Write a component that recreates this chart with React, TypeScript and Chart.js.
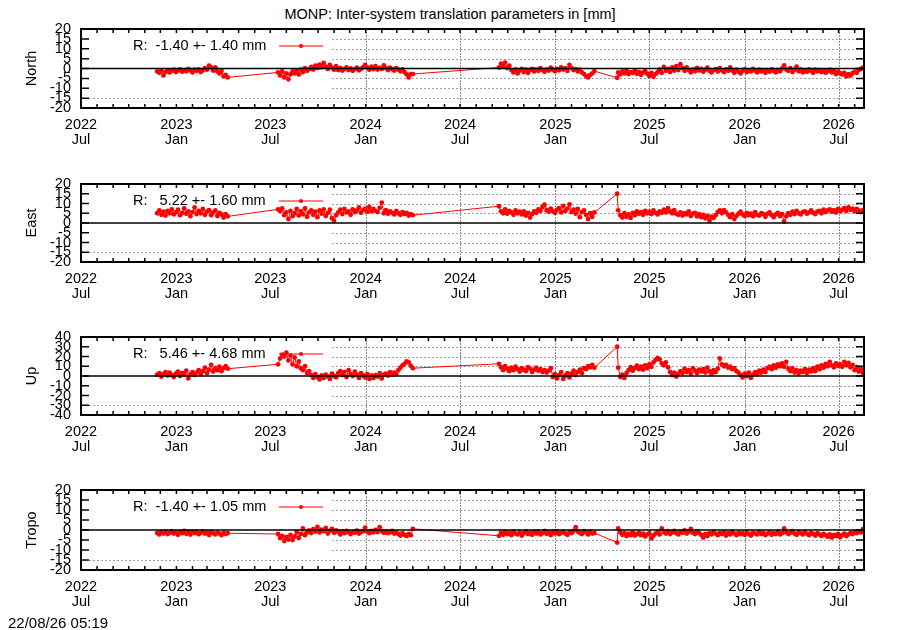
import React, { useEffect, useRef } from 'react';
import { Chart, registerables } from 'chart.js';

Chart.register(...registerables);

const FONT = "'Liberation Sans', Arial, Helvetica, sans-serif";
Chart.defaults.font.family = FONT;
Chart.defaults.color = '#000';

// ---- x axis (dates) ----
const xStart = '2022-07-01';
const xEnd = '2026-08-19';
const xTickDates = ['2022-07-01', '2023-01-01', '2023-07-01', '2024-01-01', '2024-07-01', '2025-01-01', '2025-07-01', '2026-01-01', '2026-07-01'];
const monthNames = ['Jan', 'Feb', 'Mar', 'Apr', 'May', 'Jun', 'Jul', 'Aug', 'Sep', 'Oct', 'Nov', 'Dec'];

// ---- series: one value every 4 days, blocks start at these dates ----
const blockStarts = ['2022-11-25', '2023-07-16', '2024-09-14', '2025-04-30', '2025-05-02'];
const stepDays = 4;

const northA = [-1.5, -2.2, -1.0, -3.5, -1.8, -0.8, -2.0, -1.2, -0.6, -1.8, -1.0, -0.4, -1.6, -0.8, -1.4, -0.2, -1.0, -2.0, -0.6, -1.2, -0.5, -1.8, -0.9, 0.2, -0.6, 1.5, 0.4, -1.0, 0.6, -1.5, -2.5, -1.2, -4.0, -3.2, -4.5];
const northB = [-2.0, -3.5, -1.5, -4.5, -2.5, -5.5, -3.0, -1.5, -2.5, -1.0, -3.0, -0.5, -1.8, 0.2, -1.2, -0.3, 0.8, -0.5, 1.5, 0.2, 2.0, 0.6, 2.8, 1.0, -0.2, 1.8, 0.4, -0.6, 1.2, -0.8, 0.3, -1.0, -0.2, 0.5, -0.8, 0.0, -1.2, -0.3, 0.4, -0.9, -0.2, 0.6, 1.8, 0.4, -0.6, 0.9, -0.3, 1.2, -0.5, 0.3, -0.2, 1.6, 0.2, -0.8, 0.4, -0.3, -1.0, 0.2, -0.6, -1.4, -0.4, -1.8, -3.0, -4.5, -2.8, -2.8];
const northC = [0.5, 2.5, 1.2, 3.0, 0.2, 1.5, -0.8, -2.0, -0.5, -2.5, -1.0, -0.2, -1.8, -0.6, -2.2, -0.8, -0.2, -1.5, -0.5, -1.2, 0.2, -0.8, -1.6, -0.4, -1.0, 0.4, -0.6, -1.4, -0.2, -0.9, 0.6, -0.5, 0.2, -1.2, 1.8, 0.2, -0.8, -0.3, -1.5, -0.6, -2.0, -2.8, -3.8, -4.5, -3.2, -2.5, -1.3];
const northP = [-4.7];
const northD = [
  -2.0, -3.0, -1.5, -2.5, -1.2, -2.8, -1.8, -2.2, -1.0, -2.6,
  -1.8, -3.2, -2.0, -1.4, -2.6, -3.8, -2.2, -4.2, -2.8, -1.8,
  -0.6, -2.2, 0.8, -1.2, -0.2, -1.8, 0.5, -1.0, 1.2, -0.8,
  2.2, 0.2, -1.2, 0.6, -0.8, -2.0, -0.4, -1.4, 0.3, -1.0,
  -0.2, -1.6, -0.6, 0.4, -1.2, -2.0, -0.8, -0.3, -1.5, 0.2,
  -0.9, -1.8, -0.4, -1.2, 0.5, -1.0, -2.2, -0.6, -1.6, -2.5,
  -1.2, -0.4, -1.8, -0.8, -1.4, -0.2, -1.0, -2.0, -0.6, -1.5,
  -1.0, -2.2, -0.8, -1.6, -0.4, -1.2, -2.0, -0.7, -1.4, 0.0,
  1.6, -0.5, -1.2, 0.2, -1.8, -0.6, 1.0, -1.4, -0.4, -2.0,
  -0.8, -1.6, -0.4, -1.2, -2.2, -0.6, -1.4, -0.8, -1.8, -1.0,
  -2.2, -1.4, -0.6, -2.0, -1.2, -2.8, -1.6, -2.4, -3.0, -2.2,
  -4.0, -2.8, -3.6, -2.4, -1.6, -2.2, -0.8, -0.2, 0.4];

const eastA = [5.0, 6.5, 4.2, 5.8, 3.8, 6.2, 5.0, 7.0, 4.5, 5.5, 6.8, 4.0, 5.2, 7.5, 4.8, 6.0, 3.5, 5.6, 8.0, 4.6, 6.2, 5.0, 7.2, 4.2, 5.8, 6.6, 4.0, 5.4, 6.4, 3.6, 5.2, 4.4, 2.8, 4.6, 3.4];
const eastB = [7.0, 6.0, 7.5, 4.0, 5.5, 2.0, 6.2, 3.5, 5.0, 7.2, 3.8, 6.0, 4.5, 7.5, 3.2, 5.5, 6.5, 4.2, 5.8, 3.0, 6.4, 4.8, 7.0, 3.6, 5.2, 6.8, 2.5, 1.0, 4.0, 5.5, 6.8, 4.6, 7.2, 5.4, 6.0, 4.2, 7.0, 5.6, 6.4, 8.0, 5.2, 6.6, 7.4, 5.8, 8.2, 6.0, 7.2, 6.2, 5.6, 7.8, 10.5, 5.0, 6.6, 4.8, 6.0, 5.2, 4.4, 6.2, 5.0, 4.2, 5.6, 4.6, 5.2, 3.8, 4.6, 4.0];
const eastC = [8.6, 6.0, 5.0, 7.0, 4.8, 6.2, 5.4, 4.2, 6.4, 5.0, 5.8, 4.4, 6.0, 3.8, 5.2, 2.8, 4.6, 6.0, 5.2, 7.0, 6.2, 8.2, 9.4, 6.6, 5.8, 7.4, 6.0, 5.2, 6.8, 7.6, 5.4, 8.8, 6.2, 7.4, 9.6, 5.6, 6.8, 4.8, 7.2, 3.0, 5.6, 6.4, 4.2, 2.0, 5.0, 3.2, 5.4];
const eastP = [15.0];
const eastD = [
  6.5, 4.0, 2.8, 5.0, 3.2, 4.4, 2.6, 5.2, 4.0, 6.0,
  4.8, 5.6, 4.2, 6.2, 5.0, 5.8, 4.6, 6.4, 5.2, 4.4,
  6.0, 5.2, 6.8, 5.4, 7.6, 6.0, 5.0, 6.6, 4.8, 4.2,
  5.4, 3.8, 5.0, 4.4, 6.0, 3.6, 4.8, 5.2, 3.4, 4.6,
  3.0, 4.2, 2.4, 3.6, 1.2, 3.2, 2.6, 4.0, 5.6, 6.4,
  5.0, 6.6, 5.4, 4.2, 3.0, 4.6, 2.0, 3.6, 4.8, 5.8,
  4.4, 3.6, 5.2, 4.0, 4.8, 3.4, 5.6, 4.2, 3.8, 5.0,
  4.6, 3.2, 4.8, 5.4, 4.0, 3.0, 4.4, 5.2, 3.6, 4.6,
  0.8, 3.4, 5.0, 4.2, 5.8, 4.6, 6.2, 5.0, 4.4, 5.6,
  6.0, 4.8, 5.4, 6.4, 5.2, 4.6, 5.8, 6.2, 5.0, 6.8,
  5.6, 6.4, 7.0, 5.8, 6.6, 5.4, 7.2, 6.0, 6.8, 7.6,
  6.2, 8.0, 6.8, 7.4, 6.0, 7.2, 6.4, 5.6, 6.6];

const upA = [1.5, 3.0, -0.5, 2.0, 4.0, 0.5, 3.5, 1.0, -1.0, 2.5, 4.5, 0.0, 3.0, 1.5, 5.5, -2.5, 2.0, 4.0, 1.0, 3.5, 6.0, 2.0, 5.0, 8.5, 3.0, 6.5, 11.5, 4.5, 8.0, 6.0, 9.5, 5.0, 8.0, 10.0, 7.5];
const upB = [12.0, 18.0, 22.0, 20.0, 24.0, 16.0, 21.0, 12.0, 19.0, 10.0, 15.0, 8.0, 6.0, 10.0, 3.0, 5.0, 1.0, -2.0, 2.0, -1.0, -3.5, 0.5, -2.0, 1.5, -0.5, -3.0, 2.5, 0.0, -1.5, 3.0, 5.0, 1.0, 4.0, -1.0, 6.0, 2.0, 0.0, 4.5, 1.5, -2.0, 3.0, 0.5, -1.5, 2.0, -3.0, 0.5, -2.0, 1.0, -0.5, 3.0, -2.5, 1.5, 2.5, 0.5, 4.0, 1.5, 3.5, 2.0, 6.0, 8.5, 11.0, 12.5, 15.0, 14.0, 10.5, 8.0];
const upC = [12.5, 9.0, 6.0, 10.0, 7.5, 5.0, 8.5, 6.0, 9.5, 7.0, 4.5, 8.0, 6.5, 5.0, 9.0, 7.5, 4.0, 6.5, 8.5, 5.5, 7.0, 4.0, 6.0, 3.5, 5.5, 8.0, -1.0, 2.0, -2.5, 1.0, 4.0, -3.0, 0.5, 3.0, -1.5, 2.5, 5.5, 1.0, 4.0, 6.5, 3.0, 8.0, 7.0, 10.0, 9.0, 11.5, 8.5];
const upP = [30.0];
const upD = [
  8.5, -1.0, 1.5, -2.0, 3.0, 6.0, 9.0, 5.5, 8.0, 10.5,
  7.0, 9.5, 6.5, 11.0, 8.0, 12.0, 9.5, 14.0, 16.5, 18.5,
  17.0, 13.0, 11.0, 14.0, 9.0, 4.0, 1.0, 3.5, -0.5, 2.5,
  5.0, 3.0, 7.5, 4.0, 6.0, 2.5, 8.0, 5.5, 3.0, 6.5,
  4.5, 7.0, 3.5, 8.5, 5.0, 2.0, 6.0, 4.0, 7.5, 18.0,
  12.0, 10.0, 11.5, 8.5, 9.5, 7.0, 8.0, 5.0, 3.5, 1.0,
  -1.5, 2.5, 0.0, 3.5, -2.0, 1.5, 4.0, 2.0, 5.5, 3.5,
  6.5, 4.0, 8.0, 9.5, 7.0, 11.0, 8.5, 12.0, 10.0, 13.0,
  9.5, 14.5, 7.5, 5.0, 8.0, 3.5, 6.0, 2.5, 5.5, 4.0,
  7.0, 3.0, 6.5, 4.5, 8.0, 5.0, 9.5, 7.0, 11.0, 8.5,
  12.5, 10.0, 14.5, 11.0, 9.0, 13.0, 10.5, 12.0, 9.5, 14.5,
  11.0, 13.5, 9.0, 11.5, 6.0, 9.0, 4.5, 7.0, 3.0];

const tropoA = [-1.5, -2.2, -1.0, -1.8, -0.8, -2.0, -1.4, -0.6, -1.8, -1.2, -2.4, -0.9, -1.6, -0.4, -1.9, -1.1, -2.3, -0.8, -1.5, -1.0, -2.1, -1.4, -0.7, -1.8, -1.2, -2.5, -1.0, -1.6, -2.2, -1.3, -1.8, -2.6, -1.5, -2.0, -1.6];
const tropoB = [-2.0, -4.0, -3.0, -5.5, -3.5, -4.8, -2.5, -5.0, -3.2, -1.0, -4.0, -2.0, 0.8, -2.6, -1.2, -0.2, -1.5, 0.4, -0.8, 1.5, -1.2, 0.2, -0.6, 1.0, -1.8, -0.4, 0.6, -1.4, -0.2, -1.0, -2.2, -0.8, -1.6, -0.5, -1.2, -2.0, -0.9, -1.4, -0.3, -1.8, -1.0, -0.6, 1.2, -0.8, -1.6, -0.4, -1.2, 0.0, -1.0, 1.4, -0.6, -1.4, -0.8, -1.6, -1.0, -0.4, -1.8, -1.2, -2.0, -2.8, -1.6, -2.4, -3.0, -2.0, -2.6, 0.6];
const tropoC = [-2.9, -1.5, -2.4, -1.0, -2.0, -1.4, -2.6, -0.8, -1.8, -2.2, -1.2, -2.8, -1.6, -0.6, -2.0, -1.3, -2.4, -1.0, -1.8, -0.8, -2.2, -1.5, -0.5, -1.9, -1.2, -2.5, -1.0, -1.7, -0.7, -2.1, -1.4, -0.9, -1.8, -2.4, -1.1, -1.6, -0.4, 1.4, -0.8, -1.5, -2.0, -0.6, -1.2, -2.2, -1.0, -1.8, -1.5];
const tropoP = [-6.3];
const tropoD = [
  0.8, -1.2, -2.4, -1.6, -3.0, -1.8, -2.6, -1.2, -2.8, -2.0,
  -1.4, -2.6, -1.8, -3.2, -2.2, -1.6, -4.2, -2.8, -1.8, -1.0,
  -2.2, 0.8, -1.0, -1.8, -0.6, -2.0, -1.2, -0.4, -1.6, -2.2,
  -0.8, -1.4, -0.2, -1.8, -1.0, 0.6, -1.4, -2.0, -0.8, -1.6,
  -2.4, -3.8, -2.0, -3.0, -1.6, -2.2, -1.0, -1.8, -2.6, -1.4,
  -2.0, -1.2, -2.8, -1.6, -2.2, -1.0, -1.8, -2.6, -1.4, -2.0,
  -1.6, -2.4, -1.2, -2.0, -2.8, -1.4, -1.8, -2.2, -1.0, -2.0,
  -1.4, -2.6, -1.8, -1.2, -2.4, -1.6, -2.0, -1.0, -2.2, -1.6,
  0.8, -1.2, -2.0, -1.4, -0.6, -1.8, -2.4, -1.2, -1.6, -2.2,
  -1.0, -1.8, -2.6, -1.4, -2.0, -2.8, -1.6, -2.2, -3.0, -2.0,
  -2.6, -3.4, -2.2, -3.8, -2.4, -3.0, -2.0, -3.6, -2.6, -1.8,
  -3.0, -2.2, -1.4, -2.0, -1.0, -1.6, -0.8, -1.2, 0.4];

const DAY = 86400000;
const toMs = (s: string) => {
  const [y, m, d] = s.split('-').map(Number);
  return Date.UTC(y, m - 1, d);
};
const tickValues = xTickDates.map(toMs);

const buildSeries = (blocks: number[][]) => {
  const pts: { x: number; y: number }[] = [];
  blocks.forEach((vals, b) => {
    const t0 = toMs(blockStarts[b]);
    vals.forEach((v, i) => pts.push({ x: t0 + i * stepDays * DAY, y: v }));
  });
  return pts;
};

type PanelSpec = {
  name: string;
  key: string;
  yMin: number;
  yMax: number;
  yStep: number;
  blocks: number[][];
  top: number;
  plotH: number;
};

const panels: PanelSpec[] = [
  { name: 'North', key: 'R:  -1.40 +- 1.40 mm', yMin: -20, yMax: 20, yStep: 5, blocks: [northA, northB, northC, northP, northD], top: 29, plotH: 79 },
  { name: 'East', key: 'R:   5.22 +- 1.60 mm', yMin: -20, yMax: 20, yStep: 5, blocks: [eastA, eastB, eastC, eastP, eastD], top: 184, plotH: 78 },
  { name: 'Up', key: 'R:   5.46 +- 4.68 mm', yMin: -40, yMax: 40, yStep: 10, blocks: [upA, upB, upC, upP, upD], top: 337, plotH: 78 },
  { name: 'Tropo', key: 'R:  -1.40 +- 1.05 mm', yMin: -20, yMax: 20, yStep: 5, blocks: [tropoA, tropoB, tropoC, tropoP, tropoD], top: 490, plotH: 80 },
];

const TOP_PAD = 29;
const X_AXIS_H = 46;
const KEY_RIGHT = 332;
const KEY_H = 64;
const GRID = '#a0a0a0';
const VGRID = '#8c8c8c';

// month starts inside the x range (for the small ticks and the Jan/Jul grid)
const monthsInRange = (xs: any) => {
  const out: { t: number; month: number }[] = [];
  const s = new Date(xs.min);
  for (let i = 0; i < 120; i++) {
    const t = Date.UTC(s.getUTCFullYear(), s.getUTCMonth() + i, 1);
    if (t > xs.max) break;
    if (t > xs.min) out.push({ t, month: new Date(t).getUTCMonth() });
  }
  return out;
};

// dotted grid made of small dashes (kept clear of the key area), under the data
const gnuplotGrid = {
  id: 'gnuplotGrid',
  beforeDatasetsDraw(chart: any) {
    const { ctx, chartArea } = chart;
    const { left, right, top, bottom } = chartArea;
    const xs = chart.scales.x;
    const ys = chart.scales.y;
    const keyBottom = top + KEY_H;
    ctx.save();
    ctx.fillStyle = GRID;
    ys.ticks.forEach((t: any) => {
      if (t.value === 0 || t.value === ys.min || t.value === ys.max) return;
      const py = Math.round(ys.getPixelForValue(t.value));
      const x0 = py < keyBottom ? KEY_RIGHT : left;
      for (let x = x0; x < right; x += 4) ctx.fillRect(x, py, 2, 1);
    });
    ctx.fillStyle = VGRID;
    monthsInRange(xs).forEach(({ t, month }) => {
      if (month !== 0 && month !== 6) return;
      const px = Math.round(xs.getPixelForValue(t));
      if (px > KEY_RIGHT && px < right - 1) {
        for (let y = Math.round(top); y < bottom; y += 3) ctx.fillRect(px, y, 1, 2);
      }
    });
    ctx.restore();
  },
};

// frame, inward ticks, zero axis and key, drawn over the data
const gnuplotFrame = {
  id: 'gnuplotFrame',
  afterDatasetsDraw(chart: any) {
    const { ctx, chartArea } = chart;
    const { left, right, top, bottom } = chartArea;
    const xs = chart.scales.x;
    const ys = chart.scales.y;
    ctx.save();
    const y0 = ys.getPixelForValue(0);
    ctx.strokeStyle = '#000';
    ctx.lineWidth = 1.5;
    ctx.beginPath();
    ctx.moveTo(left, y0);
    ctx.lineTo(right, y0);
    ctx.stroke();
    ys.ticks.forEach((t: any) => {
      if (t.value === ys.min || t.value === ys.max) return;
      const py = ys.getPixelForValue(t.value);
      ctx.beginPath();
      ctx.moveTo(left, py);
      ctx.lineTo(left + 8, py);
      ctx.moveTo(right, py);
      ctx.lineTo(right - 8, py);
      ctx.stroke();
    });
    monthsInRange(xs).forEach(({ t }) => {
      const px = xs.getPixelForValue(t);
      ctx.beginPath();
      ctx.moveTo(px, bottom);
      ctx.lineTo(px, bottom - 4);
      ctx.moveTo(px, top);
      ctx.lineTo(px, top + 4);
      ctx.stroke();
    });
    ctx.lineWidth = 2;
    ctx.strokeRect(left, top, right - left, bottom - top);
    const ky = top + 17;
    ctx.fillStyle = '#000';
    ctx.font = `14.5px ${FONT}`;
    ctx.textAlign = 'left';
    ctx.textBaseline = 'middle';
    ctx.fillText(chart.data.datasets[0].label, 133, ky);
    ctx.strokeStyle = '#ff0000';
    ctx.lineWidth = 1;
    ctx.beginPath();
    ctx.moveTo(279, ky);
    ctx.lineTo(323, ky);
    ctx.stroke();
    ctx.fillStyle = '#ff0000';
    ctx.beginPath();
    ctx.arc(301, ky, 2, 0, Math.PI * 2);
    ctx.fill();
    ctx.restore();
  },
};

const Panel: React.FC<{ spec: PanelSpec }> = ({ spec }) => {
  const chartRef = useRef<HTMLCanvasElement>(null);
  const h = TOP_PAD + spec.plotH + X_AXIS_H;

  useEffect(() => {
    if (!chartRef.current) return;
    const chart = new Chart(chartRef.current, {
      type: 'line',
      data: {
        datasets: [
          {
            label: spec.key,
            data: buildSeries(spec.blocks),
            borderColor: '#ff0000',
            backgroundColor: '#ff0000',
            borderWidth: 1,
            pointRadius: 2.4,
            pointBorderWidth: 0,
            tension: 0,
          },
        ],
      },
      options: {
        animation: false,
        responsive: false,
        events: [],
        layout: { padding: { top: TOP_PAD, right: 36, left: 0, bottom: 0 } },
        plugins: { legend: { display: false }, tooltip: { enabled: false } },
        scales: {
          x: {
            type: 'linear',
            bounds: 'data',
            min: toMs(xStart),
            max: toMs(xEnd),
            grid: { display: false, drawTicks: false },
            border: { display: false },
            afterBuildTicks: (scale: any) => {
              scale.ticks = tickValues.map((v) => ({ value: v }));
            },
            afterFit: (scale: any) => {
              scale.height = X_AXIS_H;
            },
            ticks: {
              autoSkip: false,
              maxRotation: 0,
              padding: 10,
              font: { size: 14.5, lineHeight: 1 },
              callback: (v: any) => {
                const d = new Date(Number(v));
                return [String(d.getUTCFullYear()), monthNames[d.getUTCMonth()]];
              },
            },
          },
          y: {
            min: spec.yMin,
            max: spec.yMax,
            grid: { display: false, drawTicks: false },
            border: { display: false },
            afterFit: (scale: any) => {
              scale.width = 81;
            },
            ticks: { stepSize: spec.yStep, autoSkip: false, padding: 10, font: { size: 14.5 } },
            title: { display: true, text: spec.name, font: { size: 14.5 }, padding: { top: 23, bottom: 0 } },
          },
        },
      },
      plugins: [gnuplotGrid, gnuplotFrame],
    });
    return () => chart.destroy();
  }, [spec]);

  return (
    <canvas
      ref={chartRef}
      width={900}
      height={h}
      style={{ position: 'absolute', left: 0, top: spec.top - TOP_PAD }}
    />
  );
};

const App: React.FC = () => (
  <div style={{ position: 'absolute', left: 0, top: 0, width: 900, height: 630, background: '#fff', fontFamily: FONT }}>
    <div style={{ position: 'absolute', left: 0, top: 6, width: 900, textAlign: 'center', fontSize: 14.5, lineHeight: '17px' }}>
      MONP: Inter-system translation parameters in [mm]
    </div>
    {panels.map((p) => (
      <Panel key={p.name} spec={p} />
    ))}
    <div style={{ position: 'absolute', left: 8, top: 614, fontSize: 15, lineHeight: '18px' }}>22/08/26 05:19</div>
  </div>
);

export default App;
